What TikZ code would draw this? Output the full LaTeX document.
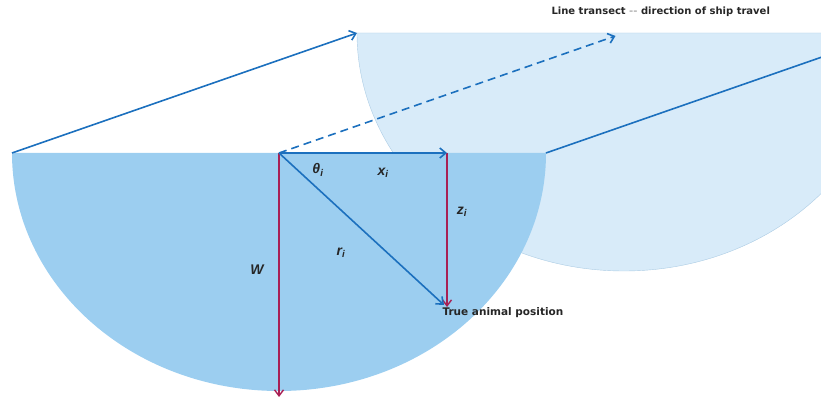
\documentclass[tikz,border=0pt]{standalone}
\usepackage{fontspec}
\setmainfont{Liberation Sans}
\newfontfamily\notefont{DejaVu Sans}
\usepackage{tikz}
\usetikzlibrary{arrows.meta,positioning,calc}
\definecolor{seablue}{RGB}{156,206,240}
\definecolor{paleblue}{RGB}{216,235,249}
\definecolor{rimblue}{RGB}{172,204,228}
\definecolor{lineblue}{RGB}{28,112,190}
\definecolor{arrowred}{RGB}{168,32,84}
\begin{document}
\begin{tikzpicture}[x=1pt, y=1pt,
    trackline/.style={lineblue, line width=1.6pt},
    trackarr/.style={trackline, -{Straight Barb[length=6pt, width=10pt]}},
    distarr/.style={arrowred, line width=1.4pt, -{Straight Barb[length=6pt, width=9pt]}},
    symlabel/.style={font=\fontsize{14}{16}\selectfont\bfseries\itshape, text=black!85},
    notelabel/.style={text=black!85, anchor=west}
]
    \useasboundingbox (0,0) rectangle (821,398);
    \clip (0,0) rectangle (821,398);

    % key points of the strip
    \coordinate (front) at (279,245);
    \coordinate (frontL) at (12,245);
    \coordinate (frontR) at (546,245);
    \coordinate (back) at (624,365);
    \coordinate (backL) at (357,365);
    \coordinate (backR) at (891,365);
    \coordinate (xend) at (447,245);
    \coordinate (animal) at (447,91);
    \coordinate (wend) at (279,1);

    % search areas
    \filldraw[fill=paleblue, draw=rimblue, thin] (backL) arc[start angle=180, end angle=360, x radius=267, y radius=238] -- cycle;
    \fill[seablue] (frontL) arc[start angle=180, end angle=360, x radius=267, y radius=238] -- cycle;

    % transect lines
    \draw[trackarr] (frontL) -- (backL);
    \draw[trackline] (frontR) -- (backR);
    \draw[trackarr, dash pattern=on 8pt off 5pt, shorten >=9pt] (front) -- (back);

    % distances
    \draw[distarr] (front) -- (wend);
    \draw[distarr] (xend) -- (animal);
    \draw[trackarr] (front) -- (xend);
    \draw[trackarr] (front) -- ($(animal)+(-3,2)$);

    \node[symlabel] (theta) at (318,228) {θ\textsubscript{i}};
    \node[symlabel] (xlab) at (383,225) {x\textsubscript{i}};
    \node[symlabel] (zlab) at (462,186) {z\textsubscript{i}};
    \node[symlabel] (rlab) at (341,145) {r\textsubscript{i}};
    \node[symlabel] (wlab) at (257,128) {W};

    \node[notelabel, font=\notefont\bfseries\fontsize{10.5}{12}\selectfont] (animaltxt) at (439,85) {True animal position};
    \node[notelabel, font=\notefont\bfseries\fontsize{10}{12}\selectfont] (transect) at (548,386) {Line transect \textcolor{black!30}{--} direction of ship travel};
\end{tikzpicture}
\end{document}
